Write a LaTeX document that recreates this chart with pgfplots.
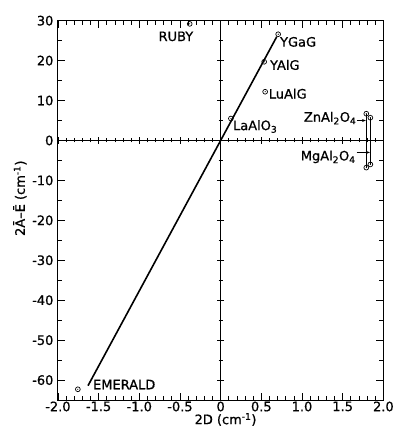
\documentclass[border=0pt]{standalone}
\usepackage{fontspec}
\setmainfont{DejaVu Sans}[FakeBold=0.8]
\usepackage{pgfplots}
\pgfplotsset{compat=1.18}
\usetikzlibrary{arrows.meta}
\pgfdeclareplotmark{odot}{%
  \pgfpathcircle{\pgfpointorigin}{\pgfplotmarksize}\pgfusepathqstroke
  \pgfpathcircle{\pgfpointorigin}{0.6pt}\pgfusepathqfill}
\begin{document}
\begin{tikzpicture}[font=\fontsize{13}{15}\selectfont]
\pgfplotsset{commonax/.style={
  scale only axis, width=326pt, height=380pt,
  xmin=-2, xmax=2, ymin=-65, ymax=30,
  xtick={-2,-1.5,-1,-0.5,0,0.5,1,1.5,2},
  minor x tick num=4,
  ytick={-60,-50,-40,-30,-20,-10,0,10,20,30},
  minor y tick num=1,
  major tick length=7pt, minor tick length=4pt,
  tick style={black, line width=0.7pt},
}}
\begin{axis}[commonax, name=main,
  xticklabels={-2.0,-1.5,-1.0,-0.5,0,0.5,1.0,1.5,2.0},
  yticklabels={-60,-50,-40,-30,-20,-10,0,10,20,30},
  xticklabel style={yshift=2pt},
  yticklabel style={xshift=-1pt},
  tick align=inside,
  axis line style={line width=1pt},
  xlabel={2D (cm\textsuperscript{-1})},
  ylabel={2Ā–Ē (cm\textsuperscript{-1})},
  xlabel style={at={(axis description cs:0.515,-0.034)}, anchor=north, inner sep=0pt},
  ylabel style={at={(axis description cs:-0.117,0.532)}, anchor=center, inner sep=0pt},
  clip=false,
]
\addplot[line width=1.6pt] coordinates {(-1.63,-61.4) (0,0) (0.69,26.0)};
\addplot[line width=0.7pt] coordinates {(1.79,6.7) (1.79,-6.8)};
\addplot[line width=0.7pt] coordinates {(1.84,5.7) (1.84,-6.0)};
\addplot[only marks, mark=odot, mark size=2.4pt, line width=0.7pt, fill=black] coordinates {
 (-0.38,29.2) (0.707,26.6) (0.535,19.7) (0.547,12.2) (0.126,5.5)
 (1.79,6.7) (1.84,5.7) (1.79,-6.8) (1.84,-6.0) (-1.755,-62.3)};
\node[anchor=base] at (axis cs:-0.55,24.9) {RUBY};
\node[anchor=base west, inner sep=0pt] at (axis cs:0.728,23.5) {YGaG};
\node[anchor=base west, inner sep=0pt] at (axis cs:0.605,17.7) {YAlG};
\node[anchor=base west, inner sep=0pt] at (axis cs:0.59,10.5) {LuAlG};
\node[anchor=base west, inner sep=0pt] at (axis cs:0.15,2.6) {LaAlO\textsubscript{3}};
\node[anchor=base east, inner sep=0pt] at (axis cs:1.67,4.7) {ZnAl\textsubscript{2}O\textsubscript{4}};
\node[anchor=base east, inner sep=0pt] at (axis cs:1.66,-5.0) {MgAl\textsubscript{2}O\textsubscript{4}};
\node[anchor=base west, inner sep=0pt] at (axis cs:-1.57,-62.3) {EMERALD};
\draw[line width=0.7pt, -{Stealth[length=4pt,width=3pt]}] (axis cs:1.675,5.0) -- (axis cs:1.785,5.0);
\draw[line width=0.7pt, -{Stealth[length=4pt,width=3pt]}] (axis cs:1.67,-3.0) -- (axis cs:1.835,-3.0);
\end{axis}
\begin{axis}[commonax,
  axis lines=middle,
  axis line style={line width=1.3pt, -},
  xticklabels={}, yticklabels={},
  tick align=center,
]
\end{axis}
\pgfresetboundingbox
\path (main.south west) ++(-58pt,-31pt) rectangle ([shift={(9pt,20.7pt)}]main.north east);
\end{tikzpicture}
\end{document}
